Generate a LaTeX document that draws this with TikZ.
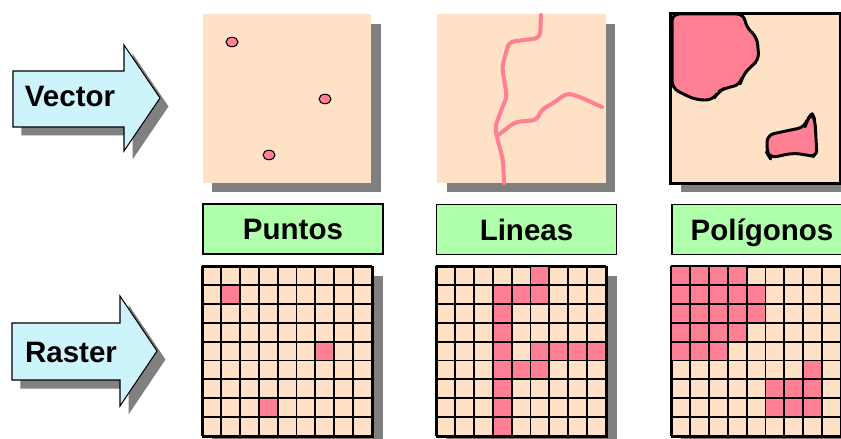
\documentclass[tikz,border=0pt]{standalone}
\usepackage{fontspec}
\setmainfont{Liberation Sans}
\usepackage{tikz}
\usetikzlibrary{positioning,calc,shadows,shapes.geometric}
\definecolor{peach}{HTML}{FFE2C6}
\definecolor{rosa}{HTML}{FF8094}
\definecolor{mint}{HTML}{B0FFAA}
\definecolor{sky}{HTML}{CCF4FA}
\definecolor{shade}{HTML}{808080}
\tikzset{
    sombra/.style={
        drop shadow={shadow xshift=0.19cm, shadow yshift=-0.19cm, opacity=1, fill=shade}
    },
    panel/.style={
        sombra,
        fill=peach,
        inner sep=0pt,
        minimum width=3.37cm,
        minimum height=3.38cm
    },
    rejilla/.style={
        sombra,
        fill=peach,
        draw,
        line width=1.1pt,
        inner sep=0pt,
        minimum size=3.402cm
    },
    malla/.style={
        draw,
        line width=1.1pt
    },
    etiqueta/.style={
        draw,
        fill=mint,
        line width=0.8pt,
        inner sep=0pt,
        text height=12pt,
        text depth=0pt,
        minimum width=3.6cm,
        minimum height=1.0cm,
        font=\fontsize{16.8}{20}\selectfont\bfseries
    },
    flecha/.style={
        draw,
        fill=sky,
        line width=0.6pt,
        drop shadow={shadow xshift=0.17cm, shadow yshift=-0.17cm, opacity=1, fill=shade}
    },
    texto/.style={
        inner sep=0pt,
        text height=12pt,
        text depth=0pt,
        font=\fontsize{16.8}{20}\selectfont\bfseries
    },
    punto/.style={
        draw,
        ellipse,
        fill=rosa,
        line width=0.6pt,
        inner sep=0pt,
        minimum width=0.24cm,
        minimum height=0.19cm
    },
    rio/.style={
        draw=rosa,
        line width=2.3pt,
        line cap=round,
        line join=round,
        rounded corners=3pt
    },
    mancha/.style={
        draw,
        fill=rosa,
        line width=1.7pt,
        line join=round,
        rounded corners=4pt
    }
}

\begin{document}
\begin{tikzpicture}[x=0.02cm, y=-0.02cm]
    \useasboundingbox (0,0) rectangle (841,439);

    % flechas
    \draw[flecha] (13,71) -- (124,71) -- (124,45) -- (160,98) -- (124,151) -- (124,127) -- (13,127) -- cycle;
    \node[texto] (vec) at (70,96) {Vector};
    \draw[flecha] (12,323) -- (120,323) -- (120,296) -- (157,351) -- (120,406) -- (120,380) -- (12,380) -- cycle;
    \node[texto] (ras) at (71,352) {Raster};

    % vector
    \node[panel] (vpts) at (287,98.5) {};
    \node[panel] (vlin) at (521.5,98.5) {};
    \node[panel] (vpol) at (755.5,98.5) {};

    \node[punto] (p1) at (232,42) {};
    \node[punto] (p2) at (325,99) {};
    \node[punto] (p3) at (269,155) {};

    \path[rio] (541,15) -- (540,38) -- (509,42) -- (502,67) -- (507,97) -- (502,108)
        -- (495,127) -- (497,137) -- (503,160) -- (504,183);
    \path[rio] (497,136) -- (515,122) -- (537,120) -- (541,110) -- (555,102) -- (567,93)
        -- (580,97) -- (602,107);

    \path[mancha] (744,14) -- (746,27) -- (757,37) -- (759,60) -- (750,67) -- (742,77)
        -- (740,85) -- (725,88) -- (718,92) -- (713,100) -- (697,100) -- (685,95)
        -- (672,88) -- (672,14) -- cycle;
    \path[mancha] (767,135) -- (805,127) -- (807,120) -- (812,113) -- (815,120) -- (817,157)
        -- (807,155) -- (793,153) -- (770,158) -- (767,153) -- cycle;
    \draw[line width=1.7pt] (vpol.north west) rectangle (vpol.south east);

    % etiquetas
    \node[etiqueta] (lpts) at (293,229) {Puntos};
    \node[etiqueta] (llin) at (526.5,229.5) {Lineas};
    \node[etiqueta] (lpol) at (762,229.5) {Polígonos};

    % raster
    \node[rejilla] (rpts) at (288,352) {};
    \node[rejilla] (rlin) at (522,352) {};
    \node[rejilla] (rpol) at (757,352) {};

    \foreach \g/\cells in {rpts/{1/1,6/4,3/7},
        rlin/{5/0,3/1,4/1,5/1,3/2,3/3,3/4,5/4,6/4,7/4,8/4,3/5,4/5,5/5,3/6,3/7,3/8},
        rpol/{0/0,1/0,2/0,3/0,0/1,1/1,2/1,3/1,4/1,0/2,1/2,2/2,3/2,4/2,0/3,1/3,2/3,3/3,0/4,1/4,2/4,7/5,5/6,6/6,7/6,5/7,6/7,7/7}} {
        \foreach \c/\r in \cells
            \fill[rosa] ($(\g.north west)+(\c*18.9,\r*18.9)$) rectangle ++(18.9,18.9);
        \foreach \i in {0,...,9} {
            \path[malla] ($(\g.north west)+(\i*18.9,0)$) -- ++(0,170.1);
            \path[malla] ($(\g.north west)+(0,\i*18.9)$) -- ++(170.1,0);
        }
    }
\end{tikzpicture}
\end{document}
